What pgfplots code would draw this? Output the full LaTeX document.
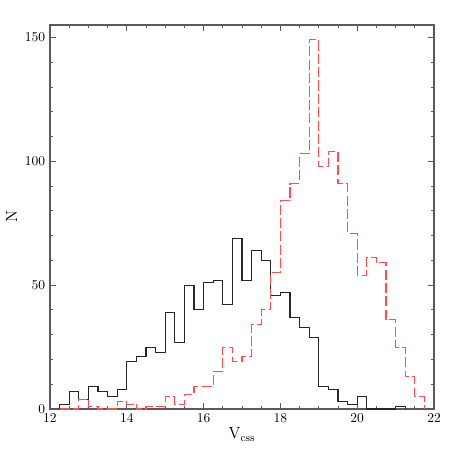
\documentclass[border=0pt]{standalone}
\usepackage{pgfplots}
\pgfplotsset{compat=1.18}
\definecolor{histred}{RGB}{255,80,80}
\definecolor{framegray}{RGB}{90,90,90}
\begin{document}
\begin{tikzpicture}
\begin{axis}[
    name=ax,
    scale only axis,
    width=10cm, height=10cm,
    xmin=12, xmax=22,
    ymin=0, ymax=155,
    xtick={12,14,...,22},
    ytick={0,50,100,150},
    minor x tick num=3,
    minor y tick num=4,
    tick align=inside,
    xtick pos=both, ytick pos=both,
    major tick length=4.4pt,
    minor tick length=2.2pt,
    axis line style={framegray, line width=0.8pt},
    every tick/.style={framegray, line width=0.6pt},
    xlabel={V$_{\mathrm{css}}$},
    ylabel={N},
    label style={font=\large},
    xlabel style={yshift=3pt},
    ylabel style={yshift=-1pt},
    clip=false,
]
% black: solid histogram, bins of 0.25 mag
\addplot[const plot, black!85, line width=0.75pt] coordinates {
 (12.25,0) (12.25,2) (12.5,7) (12.75,4) (13.0,9) (13.25,7) (13.5,5) (13.75,8)
 (14.0,19) (14.25,21) (14.5,25) (14.75,23) (15.0,39) (15.25,27) (15.5,50) (15.75,40)
 (16.0,51) (16.25,52) (16.5,42) (16.75,69) (17.0,52) (17.25,64) (17.5,60) (17.75,46)
 (18.0,47) (18.25,37) (18.5,33) (18.75,29) (19.0,9) (19.25,8) (19.5,3) (19.75,2)
 (20.0,5) (20.25,0) (20.5,0) (20.75,0) (21.0,1) (21.25,0)
};
% red: dashed histogram
\addplot[const plot, histred, line width=0.75pt, dash pattern=on 7.5pt off 2.4pt] coordinates {
 (12.25,0) (12.5,0) (12.75,4) (13.0,1) (13.25,0) (13.5,0) (13.75,3)
 (14.0,2) (14.25,0) (14.5,1) (14.75,1) (15.0,5) (15.25,2) (15.5,6) (15.75,9)
 (16.0,9) (16.25,15) (16.5,25) (16.75,19) (17.0,21) (17.25,34) (17.5,40) (17.75,55)
 (18.0,84) (18.25,91) (18.5,103) (18.75,149) (19.0,98) (19.25,104) (19.5,91) (19.75,71)
 (20.0,54) (20.25,61) (20.5,59) (20.75,36) (21.0,25) (21.25,13) (21.5,5) (21.75,0)
};
\end{axis}
\pgfresetboundingbox
\path[use as bounding box] ([shift={(-1.302cm,-1.276cm)}]ax.south west) rectangle ([shift={(0.625cm,0.651cm)}]ax.north east);
\end{tikzpicture}
\end{document}
